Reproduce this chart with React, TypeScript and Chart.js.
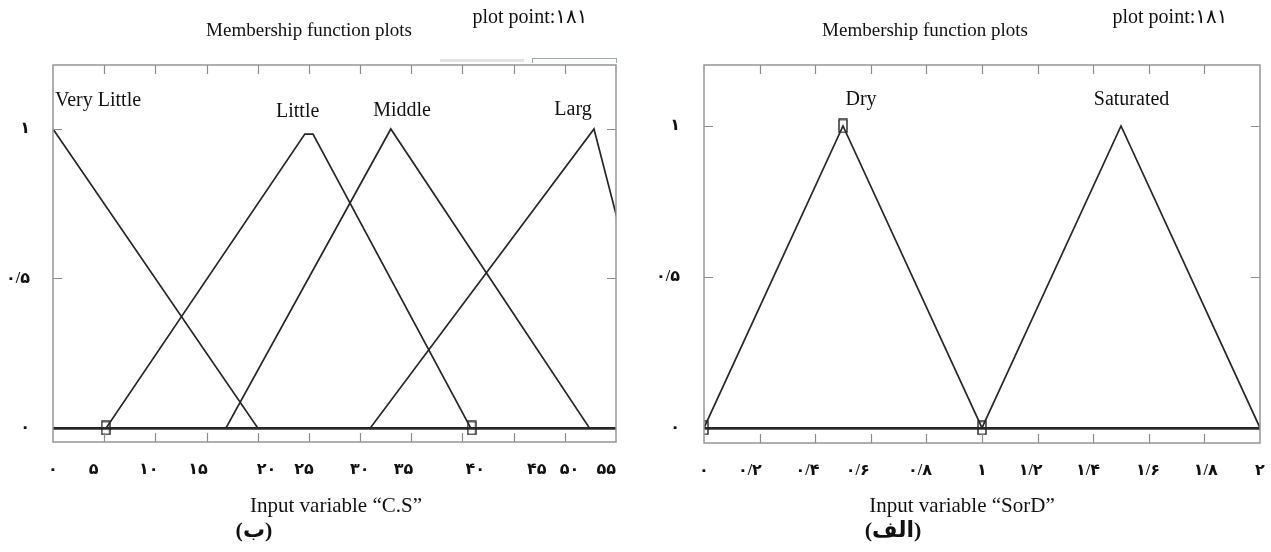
import React, { useEffect, useRef } from "react";
import { Chart, registerables } from "chart.js";
Chart.register(...registerables);

const W = 1271;
const H = 552;

// ---------- Left chart: Input variable "C.S" ----------
const csVeryLittleX = [0, 20, 55];
const csVeryLittleY = [1, 0, 0];
const csLittleX = [0, 5.2, 24.6, 25.4, 40.8, 55];
const csLittleY = [0, 0, 0.983, 0.983, 0, 0];
const csMiddleX = [0, 16.9, 33, 52.4, 55];
const csMiddleY = [0, 0, 1, 0, 0];
const csLargX = [0, 31, 52.85, 60.4];
const csLargY = [0, 0, 1, 0];
const csNames = ["Very Little", "Little", "Middle", "Larg"];
const csNameAtX = [4.4, 23.9, 34.1, 50.8];
const csNameAtY = [1.094, 1.057, 1.06, 1.064];
const csMarkX = [5.15, 40.9];
const csMarkY = [0, 0];
const csTickAt = [0, 3.96, 9.36, 14.17, 20.85, 24.52, 29.96, 34.24, 41.25, 47.25, 50.45, 54.05];
const csTickLabels = ["۰", "۵", "۱۰", "۱۵", "۲۰", "۲۵", "۳۰", "۳۵", "۴۰", "۴۵", "۵۰", "۵۵"];
const csTickMarks = [0, 5, 10, 15, 20, 25, 30, 35, 40, 45, 50, 55];

// ---------- Right chart: Input variable "SorD" ----------
const sdDryX = [0, 0.5, 1, 2];
const sdDryY = [0, 1, 0, 0];
const sdSatX = [0, 1, 1.5, 2];
const sdSatY = [0, 0, 1, 0];
const sdNames = ["Dry", "Saturated"];
const sdNameAtX = [0.565, 1.538];
const sdNameAtY = [1.086, 1.086];
const sdMarkX = [0, 0.5, 1];
const sdMarkY = [0, 1, 0];
const sdTickAt = [0, 0.165, 0.372, 0.553, 0.777, 1, 1.175, 1.381, 1.597, 1.805, 2];
const sdTickLabels = ["۰", "۰/۲", "۰/۴", "۰/۶", "۰/۸", "۱", "۱/۲", "۱/۴", "۱/۶", "۱/۸", "۲"];
const sdTickMarks = [0, 0.2, 0.4, 0.6, 0.8, 1, 1.2, 1.4, 1.6, 1.8, 2];

// ---------- shared y axis ----------
const yTickAt = [0, 0.5, 1];
const yTickLabels = ["۰", "۰/۵", "۱"];
const yTickMarks = [0.5, 1];

const FONT = "'Liberation Serif', 'DejaVu Sans', serif";
const LINE = "#262626";

function pts(xs: number[], ys: number[]) {
  return xs.map((x, i) => ({ x, y: ys[i] }));
}

function decorPlugin(p: {
  xMarks: number[];
  yMarks: number[];
  names: string[];
  nameX: number[];
  nameY: number[];
}) {
  return {
    id: "mfDecor",
    afterDatasetsDraw(chart: any) {
      const { ctx, chartArea: a, scales } = chart;
      const xs = scales.x;
      const ys = scales.y;
      const len = 9;
      ctx.save();
      ctx.strokeStyle = "#8c8c8c";
      ctx.lineWidth = 1.2;
      ctx.beginPath();
      p.xMarks.forEach((v) => {
        const px = Math.round(xs.getPixelForValue(v)) + 0.5;
        ctx.moveTo(px, a.top);
        ctx.lineTo(px, a.top + len);
        ctx.moveTo(px, a.bottom);
        ctx.lineTo(px, a.bottom - len);
      });
      p.yMarks.forEach((v) => {
        const py = Math.round(ys.getPixelForValue(v)) + 0.5;
        ctx.moveTo(a.left, py);
        ctx.lineTo(a.left + len, py);
        ctx.moveTo(a.right, py);
        ctx.lineTo(a.right - len, py);
      });
      ctx.stroke();
      ctx.strokeStyle = "#959595";
      ctx.lineWidth = 1.5;
      ctx.strokeRect(a.left, a.top, a.right - a.left, a.bottom - a.top);
      ctx.fillStyle = "#111";
      ctx.font = "20px " + FONT;
      ctx.textAlign = "center";
      ctx.textBaseline = "middle";
      p.names.forEach((n, i) => {
        ctx.fillText(n, xs.getPixelForValue(p.nameX[i]), ys.getPixelForValue(p.nameY[i]));
      });
      ctx.restore();
    },
  };
}

function makeMarker() {
  const c = document.createElement("canvas");
  c.width = 10;
  c.height = 15;
  const g = c.getContext("2d")!;
  g.strokeStyle = "#111";
  g.lineWidth = 1.3;
  g.strokeRect(1, 1, 8, 13);
  return c;
}

function makeConfig(o: {
  series: { x: number[]; y: number[] }[];
  markX: number[];
  markY: number[];
  xMin: number;
  xMax: number;
  yMin: number;
  yMax: number;
  tickAt: number[];
  tickLabels: string[];
  padding: { left: number; right: number; top: number; bottom: number };
  xAxisHeight: number;
  yPad: number;
  plugin: any;
  marker: HTMLCanvasElement;
}): any {
  const datasets: any[] = o.series.map((s) => ({
    type: "line",
    data: pts(s.x, s.y),
    borderColor: LINE,
    borderWidth: 1.7,
    pointRadius: 0,
    fill: false,
    tension: 0,
  }));
  datasets.push({
    type: "scatter",
    data: pts(o.markX, o.markY),
    showLine: false,
    pointStyle: o.marker,
    pointRadius: 6,
    borderColor: "#111",
  });
  return {
    type: "line",
    data: { datasets },
    options: {
      responsive: false,
      maintainAspectRatio: false,
      animation: false,
      devicePixelRatio: 1,
      layout: { padding: o.padding },
      plugins: { legend: { display: false }, tooltip: { enabled: false } },
      scales: {
        x: {
          type: "linear",
          min: o.xMin,
          max: o.xMax,
          afterBuildTicks: (s: any) => {
            s.ticks = o.tickAt.map((v) => ({ value: v }));
          },
          afterFit: (s: any) => {
            s.height = o.xAxisHeight;
          },
          grid: {
            display: true,
            drawOnChartArea: false,
            drawTicks: true,
            tickLength: 18,
            tickColor: "rgba(0,0,0,0)",
            color: "rgba(0,0,0,0)",
          },
          border: { display: false },
          ticks: {
            autoSkip: false,
            maxRotation: 0,
            minRotation: 0,
            padding: 0,
            color: "#111",
            font: { family: FONT, size: 16, weight: "bold" },
            callback: (_v: any, i: number) => o.tickLabels[i],
          },
        },
        y: {
          type: "linear",
          min: o.yMin,
          max: o.yMax,
          afterBuildTicks: (s: any) => {
            s.ticks = yTickAt.map((v) => ({ value: v }));
          },
          afterFit: (s: any) => {
            s.width = 53;
          },
          grid: {
            drawTicks: false,
            color: (c: any) => (c.tick && c.tick.value === 0 ? "#333" : "rgba(0,0,0,0)"),
            lineWidth: (c: any) => (c.tick && c.tick.value === 0 ? 2.8 : 0),
          },
          border: { display: false },
          ticks: {
            padding: o.yPad,
            color: "#111",
            font: { family: FONT, size: 16, weight: "bold" },
            callback: (_v: any, i: number) => yTickLabels[i],
          },
        },
      },
    },
    plugins: [o.plugin],
  };
}

const textBase: React.CSSProperties = {
  position: "absolute",
  transform: "translate(-50%, -50%)",
  whiteSpace: "nowrap",
  lineHeight: 1,
  fontFamily: FONT,
  color: "#111",
};

function Txt(props: { x: number; y: number; size: number; bold?: boolean; children: React.ReactNode }) {
  return (
    <div
      style={{
        ...textBase,
        left: props.x,
        top: props.y,
        fontSize: props.size,
        fontWeight: props.bold ? "bold" : "normal",
      }}
    >
      {props.children}
    </div>
  );
}

export default function App() {
  const leftRef = useRef<HTMLCanvasElement>(null);
  const rightRef = useRef<HTMLCanvasElement>(null);

  useEffect(() => {
    const marker = makeMarker();
    const left = new Chart(
      leftRef.current!,
      makeConfig({
        series: [
          { x: csVeryLittleX, y: csVeryLittleY },
          { x: csLittleX, y: csLittleY },
          { x: csMiddleX, y: csMiddleY },
          { x: csLargX, y: csLargY },
        ],
        markX: csMarkX,
        markY: csMarkY,
        xMin: 0,
        xMax: 55,
        yMin: -0.047,
        yMax: 1.214,
        tickAt: csTickAt,
        tickLabels: csTickLabels,
        padding: { left: 0, right: W - 616, top: 65, bottom: 0 },
        xAxisHeight: H - 442,
        yPad: 23,
        plugin: decorPlugin({
          xMarks: csTickMarks.slice(1, -1),
          yMarks: yTickMarks,
          names: csNames,
          nameX: csNameAtX,
          nameY: csNameAtY,
        }),
        marker,
      })
    );
    const right = new Chart(
      rightRef.current!,
      makeConfig({
        series: [
          { x: sdDryX, y: sdDryY },
          { x: sdSatX, y: sdSatY },
        ],
        markX: sdMarkX,
        markY: sdMarkY,
        xMin: 0,
        xMax: 2,
        yMin: -0.05,
        yMax: 1.202,
        tickAt: sdTickAt,
        tickLabels: sdTickLabels,
        padding: { left: 651, right: W - 1260, top: 65, bottom: 0 },
        xAxisHeight: H - 443,
        yPad: 24,
        plugin: decorPlugin({
          xMarks: sdTickMarks.slice(1, -1),
          yMarks: yTickMarks,
          names: sdNames,
          nameX: sdNameAtX,
          nameY: sdNameAtY,
        }),
        marker,
      })
    );
    return () => {
      left.destroy();
      right.destroy();
    };
  }, []);

  const cv: React.CSSProperties = { position: "absolute", left: 0, top: 0, width: W, height: H };

  return (
    <div style={{ position: "absolute", left: 0, top: 0, width: W, height: H, background: "#fff", overflow: "hidden" }}>
      <div style={{ position: "absolute", left: 440, top: 59, width: 84, height: 3, background: "#e2e2e2" }} />
      <div style={{ position: "absolute", left: 532, top: 58, width: 83, height: 4, border: "1px solid #9aa8b2", borderBottom: "none" }} />
      <canvas ref={leftRef} width={W} height={H} style={cv} />
      <canvas ref={rightRef} width={W} height={H} style={cv} />
      <Txt x={309} y={29} size={19}>Membership function plots</Txt>
      <Txt x={530} y={16} size={20}>plot point:۱۸۱</Txt>
      <Txt x={925} y={29} size={19}>Membership function plots</Txt>
      <Txt x={1170} y={16} size={20}>plot point:۱۸۱</Txt>
      <Txt x={336} y={505} size={21}>Input variable “C.S”</Txt>
      <Txt x={962} y={505} size={21}>Input variable “SorD”</Txt>
      <Txt x={254} y={530} size={22} bold>(ب)</Txt>
      <Txt x={893} y={530} size={22} bold>(الف)</Txt>
    </div>
  );
}
